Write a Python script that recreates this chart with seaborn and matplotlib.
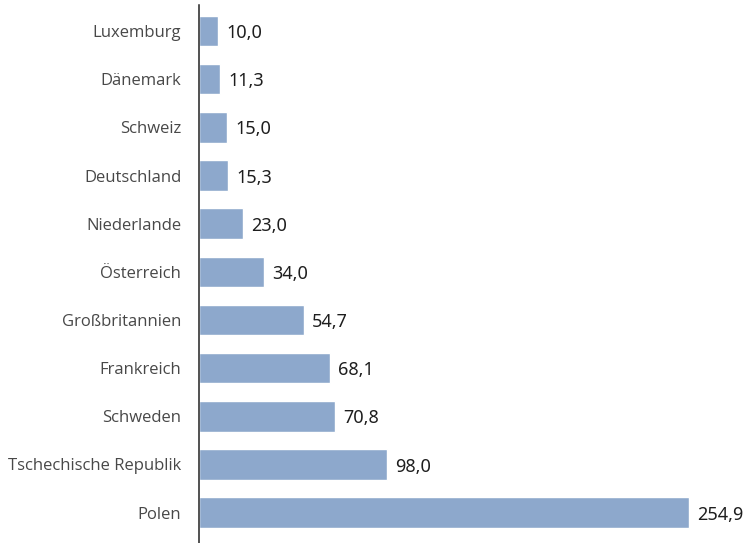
import matplotlib
matplotlib.use("Agg")
import matplotlib.pyplot as plt
import seaborn as sns
import pandas as pd

countries = ["Luxemburg", "Dänemark", "Schweiz", "Deutschland", "Niederlande",
             "Österreich", "Großbritannien", "Frankreich", "Schweden",
             "Tschechische Republik", "Polen"]
values = [10.0, 11.3, 15.0, 15.3, 23.0, 34.0, 54.7, 68.1, 70.8, 98.0, 254.9]

df = pd.DataFrame({"Land": countries, "Wert": values})

sns.set_theme(style="white")
plt.rcParams["font.family"] = ["Open Sans", "DejaVu Sans"]

fig = plt.figure(figsize=(7.46, 5.43), dpi=100)
ax = fig.add_axes([198.5 / 746, 0.0, 1 - 198.5 / 746, 1 - 5 / 543])

sns.barplot(data=df, y="Land", x="Wert", orient="h", color="#8DA8CC",
            saturation=1, width=0.635, ax=ax)

ax.set_xlim(0, 284.5)
ax.set_ylim(10.63, -0.54)
ax.set_xlabel("")
ax.set_ylabel("")
ax.set_xticks([])
ax.tick_params(axis="y", length=0, pad=12.5, labelsize=12.0, labelcolor="#484848")
for s in ["top", "right", "bottom"]:
    ax.spines[s].set_visible(False)
ax.spines["left"].set_color("#222222")
ax.spines["left"].set_linewidth(1.1)

# value labels with German decimal comma
for i, v in enumerate(values):
    ax.annotate(f"{v:.1f}".replace(".", ","), xy=(v, i), xytext=(6, -1.5),
                textcoords="offset points", va="center", ha="left",
                fontsize=13.0, fontweight=500, color="#1e1e1e",
                family=["Noto Sans", "Open Sans", "DejaVu Sans"])

fig.savefig("out.png", dpi=100)
